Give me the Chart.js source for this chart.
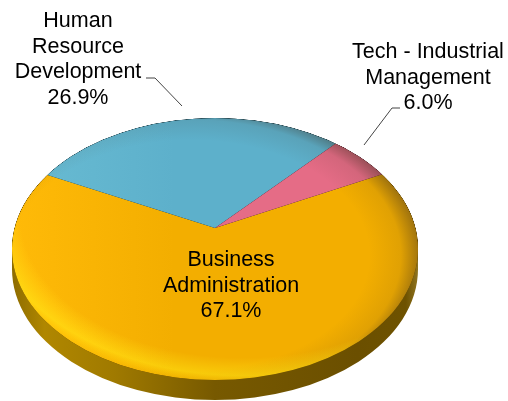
<!DOCTYPE html>
<html>
<head>
<meta charset="utf-8">
<style>
  html, body { margin: 0; padding: 0; background: #fff; }
  canvas { display: block; }
</style>
<script src="https://cdn.jsdelivr.net/npm/chart.js@4"></script>
</head>
<body>
<canvas id="myChart" width="508" height="401"></canvas>
<script>
const categories = ['Business Administration', 'Human Resource Development', 'Tech - Industrial Management'];
const shares = [67.1, 26.9, 6.0];
const sliceColors = ['#F3AE00', '#5DB0CB', '#E56C86'];

// label layout: wrapped lines, centre x, first baseline y
const labelLines = [
    ['Business', 'Administration'],
    ['Human', 'Resource', 'Development'],
    ['Tech - Industrial', 'Management']
];
const labelX = [231, 78, 428];
const labelY = [266, 27, 58];
const leaders = [
    null,
    [[146, 78], [155, 78], [182, 106]],
    [[364, 145], [392, 108], [400, 108]]
];

// the disc: ellipse of the top face, apex sits above its centre
const faceOffsetY = 21;   // face centre below the apex
const faceRx = 203;
const faceRy = 131;
const depth = 20;
const tilt = 0.535;

function faceEllipse(ctx, cx, cy) {
    ctx.beginPath();
    ctx.ellipse(cx, cy, faceRx, faceRy, 0, 0, Math.PI * 2);
}

const disc3d = {
    id: 'disc3d',
    beforeDatasetsDraw(chart) {
        const ctx = chart.ctx;
        const arc = chart.getDatasetMeta(0).data[0];
        const cx = arc.x, cy = arc.y + faceOffsetY;

        // side wall
        const wall = ctx.createLinearGradient(cx - faceRx, 0, cx + faceRx, 0);
        wall.addColorStop(0, '#8E6C00');
        wall.addColorStop(0.08, '#B08700');
        wall.addColorStop(0.25, '#A07A00');
        wall.addColorStop(0.5, '#775900');
        wall.addColorStop(0.85, '#6B4F00');
        wall.addColorStop(0.97, '#6E5200');
        wall.addColorStop(1, '#8F7420');
        ctx.save();
        ctx.fillStyle = wall;
        ctx.beginPath();
        ctx.ellipse(cx, cy + depth, faceRx, faceRy, 0, 0, Math.PI);
        ctx.lineTo(cx - faceRx, cy);
        ctx.ellipse(cx, cy, faceRx, faceRy, 0, Math.PI, 0, true);
        ctx.closePath();
        ctx.fill();
        ctx.restore();

        // top face: arcs are squashed and cut by the ellipse
        ctx.save();
        faceEllipse(ctx, cx, cy);
        ctx.clip();
        ctx.translate(arc.x, arc.y);
        ctx.scale(1, tilt);
        ctx.translate(-arc.x, -arc.y);
    },
    afterDatasetsDraw(chart) {
        const ctx = chart.ctx;
        const arc = chart.getDatasetMeta(0).data[0];
        const cx = arc.x, cy = arc.y + faceOffsetY;
        ctx.restore();

        // bevel shading in unit-circle space
        ctx.save();
        faceEllipse(ctx, cx, cy);
        ctx.clip();
        ctx.translate(cx, cy);
        ctx.scale(faceRx, faceRy);

        const dark = ctx.createRadialGradient(-0.12, 0.05, 0.88, -0.12, 0.05, 1.14);
        dark.addColorStop(0, 'rgba(60,45,30,0)');
        dark.addColorStop(0.6, 'rgba(60,45,30,0.1)');
        dark.addColorStop(1, 'rgba(60,45,30,0.5)');
        ctx.fillStyle = dark;
        ctx.fillRect(-1.1, -1.1, 2.2, 2.2);

        const light = ctx.createRadialGradient(0.14, -0.27, 1.1, 0.14, -0.27, 1.32);
        light.addColorStop(0, 'rgba(255,232,20,0)');
        light.addColorStop(0.62, 'rgba(255,232,20,0.5)');
        light.addColorStop(1, 'rgba(255,210,0,0.05)');
        ctx.fillStyle = light;
        ctx.fillRect(-1.1, -1.1, 2.2, 2.2);

        // left side of the disc is a bit brighter
        const glow = ctx.createLinearGradient(-1, 0, -0.2, 0);
        glow.addColorStop(0, 'rgb(12,12,8)');
        glow.addColorStop(1, 'rgb(0,0,0)');
        ctx.globalCompositeOperation = 'lighter';
        ctx.fillStyle = glow;
        ctx.fillRect(-1.1, -1.1, 2.2, 2.2);
        ctx.restore();
    },
    afterDraw(chart) {
        const ctx = chart.ctx;
        ctx.save();
        ctx.strokeStyle = '#444';
        ctx.lineWidth = 1;
        leaders.forEach(pts => {
            if (!pts) return;
            ctx.beginPath();
            pts.forEach((p, i) => i ? ctx.lineTo(p[0], p[1]) : ctx.moveTo(p[0], p[1]));
            ctx.stroke();
        });

        ctx.fillStyle = '#000';
        ctx.font = '21.5px "Liberation Sans", Arial, sans-serif';
        ctx.textAlign = 'center';
        ctx.textBaseline = 'alphabetic';
        labelLines.forEach((lines, i) => {
            const all = lines.concat(shares[i].toFixed(1) + '%');
            all.forEach((t, j) => ctx.fillText(t, labelX[i], labelY[i] + j * 25.7));
        });
        ctx.restore();
    }
};

new Chart(document.getElementById('myChart'), {
    type: 'pie',
    data: {
        labels: categories,
        datasets: [{
            data: shares,
            backgroundColor: sliceColors,
            borderWidth: 0,
            clip: false
        }]
    },
    options: {
        responsive: false,
        animation: false,
        rotation: 59,
        radius: 340,
        layout: { padding: { right: 78, top: 55 } },
        plugins: { legend: { display: false }, tooltip: { enabled: false } }
    },
    plugins: [disc3d]
});
</script>
</body>
</html>
